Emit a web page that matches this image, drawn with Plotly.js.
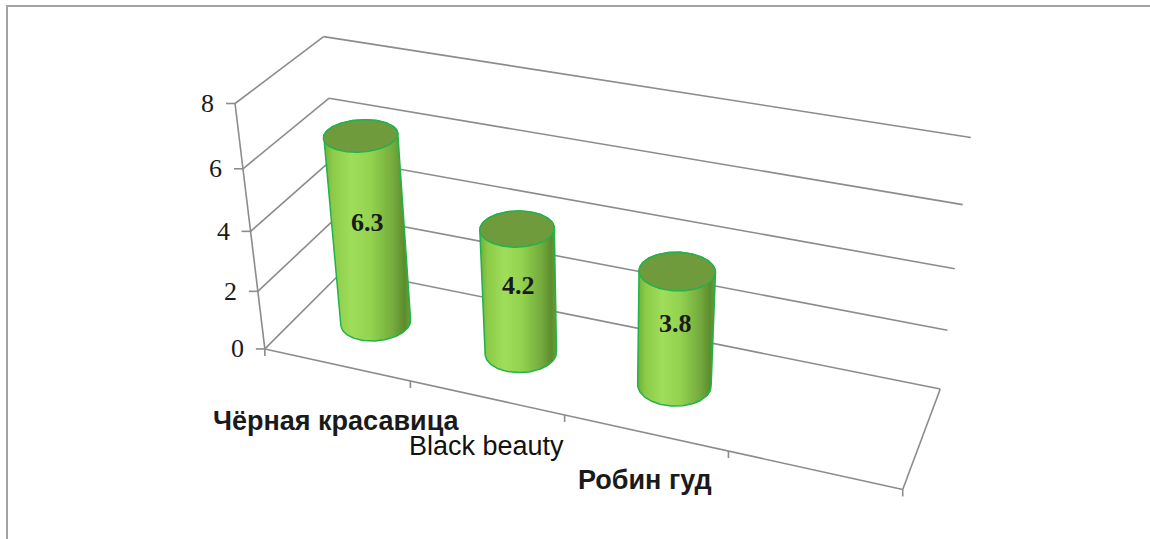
<!DOCTYPE html>
<html><head><meta charset="utf-8">
<script src="https://cdn.plot.ly/plotly-3.0.1.min.js"></script>
<style>
html,body{margin:0;padding:0;width:1150px;height:539px;overflow:hidden;background:#fff}
#frame{position:absolute;left:6px;top:5px;width:1170px;height:570px;border:2px solid #a3a3a3;box-sizing:border-box;pointer-events:none;z-index:10}
#chart{position:absolute;left:0;top:0;width:1150px;height:539px}
</style></head>
<body><div id="chart"></div><div id="frame"></div>
<script>
// ---- data ----
const categories = ['Чёрная красавица', 'Black beauty', 'Робин гуд'];
const values = [6.3, 4.2, 3.8];
const valueLabels = ['6.3', '4.2', '3.8'];
const zTickVals = [0, 2, 4, 6, 8];
const zTickText = ['0', '2', '4', '6', '8'];
const catBoundaries = [-0.5, 0.5, 1.5, 2.5, 3.5];

// ---- 3D perspective scale (camera calibrated to the reference view) ----
const XR = [-0.5, 3.5], YR = [0, 1], ZR = [0, 8];
const BOX = {Lx: 0.3744, Ly: 0.0975, Lz: 0.156};
const CAM = {f: 1725, cx: 605, cy: 290, alpha: 20.7, phi: 31.1, pos: [0.4809, -0.7148, 0.5458]};
const rad = Math.PI / 180;
const sa = Math.sin(CAM.alpha * rad), ca = Math.cos(CAM.alpha * rad);
const sp = Math.sin(CAM.phi * rad), cp = Math.cos(CAM.phi * rad);
const vd = [-sa * cp, ca * cp, -sp], vr = [ca, sa, 0], vu = [-sa * sp, ca * sp, cp];
const dot = (a, b) => a[0] * b[0] + a[1] * b[1] + a[2] * b[2];
function world(x, y, z) {
  return [(x - XR[0]) / (XR[1] - XR[0]) * BOX.Lx, (y - YR[0]) / (YR[1] - YR[0]) * BOX.Ly, (z - ZR[0]) / (ZR[1] - ZR[0]) * BOX.Lz];
}
function projW(W) {
  const q = [W[0] - CAM.pos[0], W[1] - CAM.pos[1], W[2] - CAM.pos[2]];
  const qd = dot(q, vd);
  return [CAM.cx + CAM.f * dot(q, vr) / qd, CAM.cy - CAM.f * dot(q, vu) / qd];
}
const P = (x, y, z) => projW(world(x, y, z));

const traces = [];
const gridC = '#8c8c8c';
function seg(list, color, width) {
  const xs = [], ys = [];
  list.forEach(([a, b]) => { xs.push(a[0], b[0], null); ys.push(a[1], b[1], null); });
  traces.push({type: 'scatter', mode: 'lines', x: xs, y: ys, line: {color: color, width: width}, hoverinfo: 'skip', connectgaps: false});
}
// back wall and side wall gridlines
seg(zTickVals.map(z => [P(XR[0], YR[1], z), P(XR[1], YR[1], z)]), gridC, 1.6);
seg(zTickVals.map(z => [P(XR[0], YR[0], z), P(XR[0], YR[1], z)]), gridC, 1.6);
// axis lines: value axis (front-left edge), category axis (floor front edge), floor right edge
seg([[P(XR[0], YR[0], ZR[0]), P(XR[0], YR[0], ZR[1])],
     [P(XR[0], YR[0], ZR[0]), P(XR[1], YR[0], ZR[0])],
     [P(XR[1], YR[0], ZR[0]), P(XR[1], YR[1], ZR[0])]], gridC, 1.6);
// tick marks
seg(zTickVals.map(z => { const p = P(XR[0], YR[0], z); return [p, [p[0] - 9, p[1]]]; }), gridC, 1.6);
seg(catBoundaries.map(x => { const p = P(x, YR[0], ZR[0]); return [p, [p[0], p[1] + 7]]; }), gridC, 1.6);

// cylinders
const rWorld = 0.22 * BOX.Lx / (XR[1] - XR[0]);
const yc = 0.5;
const N = 90;
const edge = '#22b24b';
const annotations = [];
values.forEach((v, i) => {
  const c = world(i, yc, 0);
  const top = world(i, yc, v)[2];
  const vx = CAM.pos[0] - c[0], vy = CAM.pos[1] - c[1];
  const beta = Math.atan2(vy, vx), g = Math.acos(rWorld / Math.hypot(vx, vy));
  const aA = beta + g, aB = beta - g;   // tangent (silhouette) angles
  const pt = (ang, z) => projW([c[0] + rWorld * Math.cos(ang), c[1] + rWorld * Math.sin(ang), z]);
  const bx = [], by = [];
  for (let k = 0; k <= N; k++) { const p = pt(aA - (aA - aB) * k / N, 0); bx.push(p[0]); by.push(p[1]); }
  for (let k = 0; k <= N; k++) { const p = pt(aB - (2 * Math.PI - (aA - aB)) * k / N, top); bx.push(p[0]); by.push(p[1]); }
  bx.push(bx[0]); by.push(by[0]);
  traces.push({type: 'scatter', mode: 'lines', x: bx, y: by, fill: 'toself',
    fillgradient: {type: 'horizontal', colorscale: [[0, '#6fae38'], [0.1, '#8bcb47'], [0.32, '#9fde5b'], [0.55, '#92d24e'], [0.8, '#74ab3d'], [0.93, '#5c8d2d'], [1, '#6ba037']]},
    line: {color: edge, width: 1.5}, hoverinfo: 'skip'});
  const tx = [], ty = [];
  for (let k = 0; k <= N * 2; k++) { const p = pt(2 * Math.PI * k / (N * 2), top); tx.push(p[0]); ty.push(p[1]); }
  traces.push({type: 'scatter', mode: 'lines', x: tx, y: ty, fill: 'toself', fillcolor: '#6f9b3d',
    line: {color: edge, width: 1.5}, hoverinfo: 'skip'});
  const lp = P(i, yc, v * 0.55);
  annotations.push({x: lp[0], y: lp[1], xref: 'x', yref: 'y', text: '<b>' + valueLabels[i] + '</b>', showarrow: false,
    font: {family: 'Liberation Serif', size: 26, color: '#1a1a1a'}});
});

// value axis tick labels
zTickVals.forEach((z, k) => {
  const p = P(XR[0], YR[0], z);
  annotations.push({x: p[0] - 19, y: p[1], xref: 'x', yref: 'y', xanchor: 'right', yanchor: 'middle', text: zTickText[k],
    showarrow: false, font: {family: 'Liberation Serif', size: 26, color: '#1a1a1a'}});
});
// category labels (staggered like the reference)
const labDrop = [56, 48, 47];
const labBold = [true, false, true];
categories.forEach((c, i) => {
  const p = P(i, YR[0], ZR[0]);
  annotations.push({x: p[0], y: p[1] + labDrop[i], xref: 'x', yref: 'y', text: labBold[i] ? '<b>' + c + '</b>' : c,
    showarrow: false, font: {family: 'Liberation Sans', size: 27, color: labBold[i] ? '#1a1a1a' : '#111111'}});
});

const layout = {
  width: 1150, height: 539, margin: {l: 0, r: 0, t: 0, b: 0},
  paper_bgcolor: '#ffffff', plot_bgcolor: '#ffffff', showlegend: false, hovermode: false,
  xaxis: {range: [0, 1150], visible: false, fixedrange: true},
  yaxis: {range: [539, 0], visible: false, fixedrange: true},
  annotations: annotations
};
Plotly.newPlot('chart', traces, layout, {displayModeBar: false, staticPlot: true});
</script>
</body></html>
